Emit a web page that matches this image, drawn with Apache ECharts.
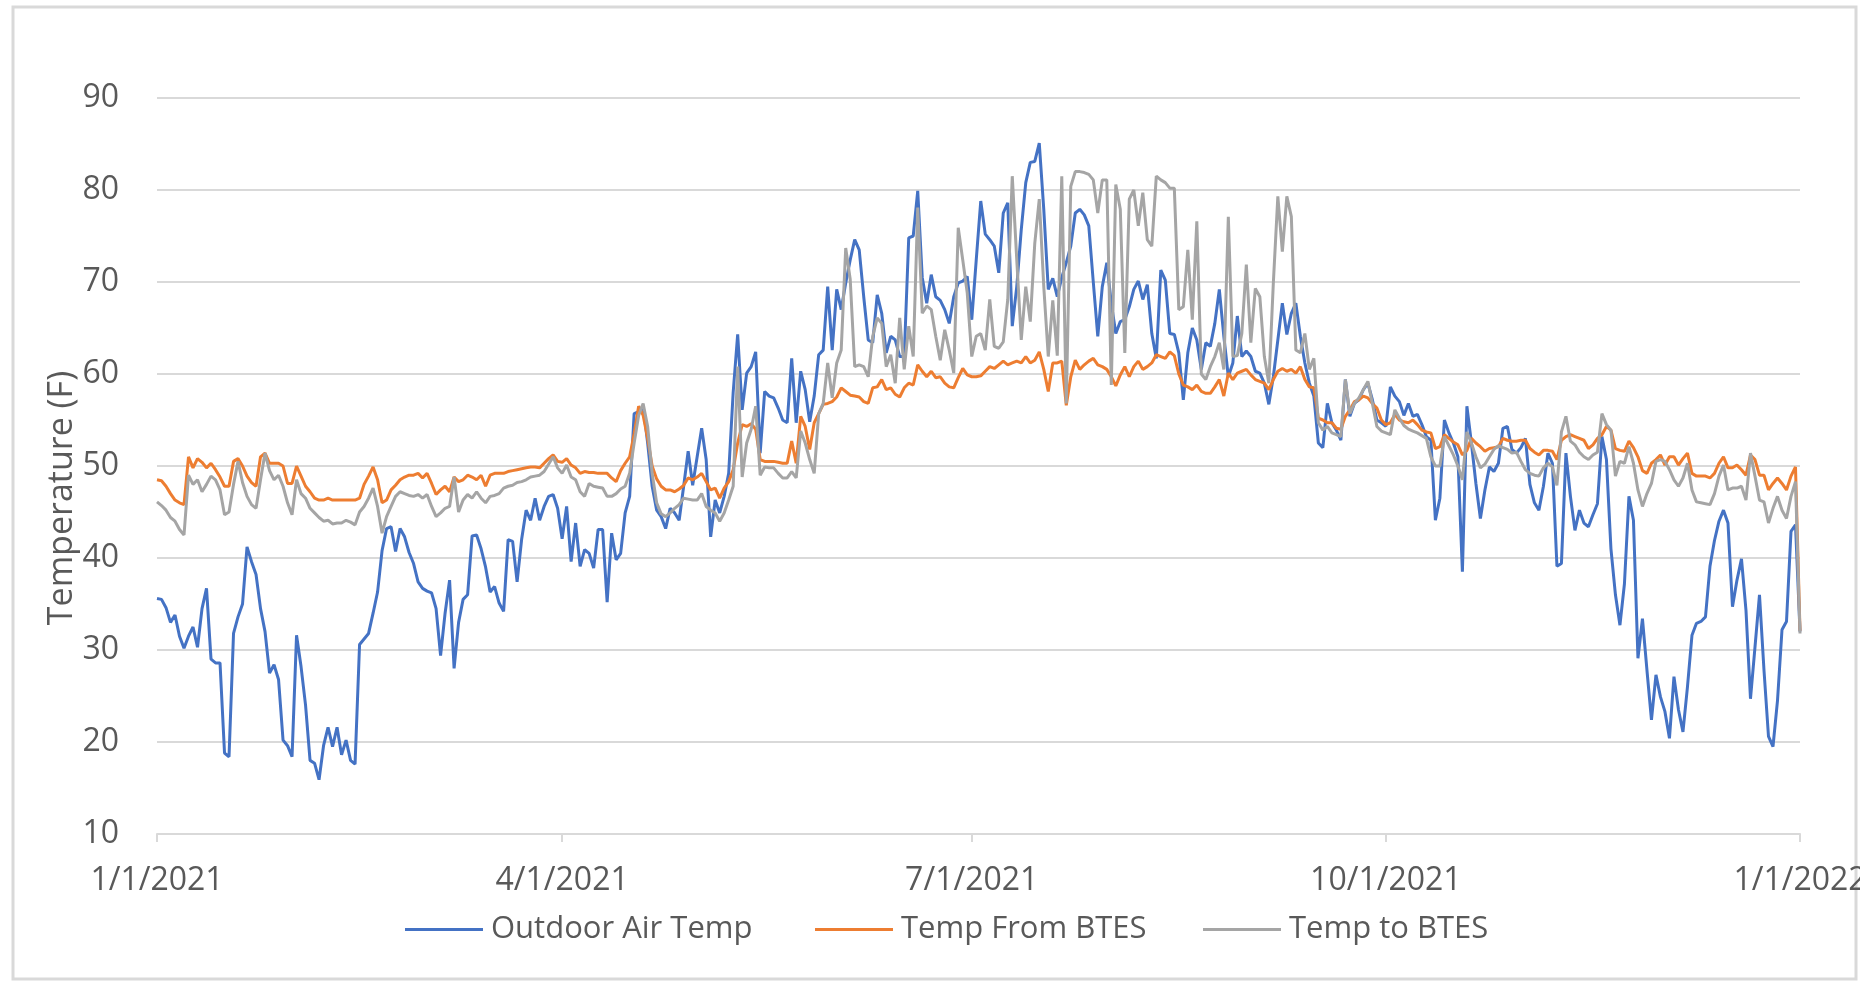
<!DOCTYPE html>
<html>
<head>
<meta charset="utf-8">
<title>Outdoor Air and BTES Temperatures, 2021</title>
<script src="https://cdn.jsdelivr.net/npm/echarts@6/dist/echarts.min.js"></script>
<style>
  html, body { margin: 0; padding: 0; background: #ffffff; }
  #chart { width: 1860px; height: 982px; }
</style>
</head>
<body>
<div id="chart"></div>
<script>
// Daily temperatures (°F), 1/1/2021 through 1/1/2022
const outdoorAirTemp = [
  35.6, 35.5, 34.6, 33.0, 33.8, 31.5, 30.2, 31.5, 32.5, 30.3,
  34.5, 36.7, 29.0, 28.6, 28.6, 18.8, 18.4, 31.8, 33.6, 35.0,
  41.2, 39.6, 38.2, 34.5, 32.0, 27.5, 28.4, 26.8, 20.2, 19.6,
  18.4, 31.6, 28.2, 24.0, 18.0, 17.7, 15.9, 19.6, 21.6, 19.5,
  21.6, 18.6, 20.2, 18.0, 17.6, 30.6, 31.2, 31.8, 34.0, 36.3,
  40.8, 43.2, 43.4, 40.7, 43.2, 42.3, 40.6, 39.4, 37.4, 36.7,
  36.4, 36.2, 34.5, 29.4, 34.0, 37.6, 28.0, 33.0, 35.5, 36.0,
  42.4, 42.5, 41.0, 39.0, 36.3, 36.9, 35.1, 34.2, 42.0, 41.8,
  37.4, 42.0, 45.2, 44.1, 46.5, 44.1, 45.6, 46.7, 46.9, 45.4,
  42.1, 45.6, 39.6, 43.8, 39.1, 40.9, 40.5, 38.9, 43.1, 43.1,
  35.2, 42.7, 39.8, 40.5, 44.9, 46.7, 55.7, 55.9, 56.5, 52.5,
  47.8, 45.2, 44.5, 43.2, 45.4, 44.9, 44.1, 47.8, 51.6, 47.9,
  51.0, 54.1, 50.7, 42.3, 46.3, 44.9, 46.7, 49.2, 58.0, 64.3,
  56.1, 60.1, 60.8, 62.4, 51.4, 58.1, 57.6, 57.4, 56.3, 55.0,
  54.7, 61.7, 54.7, 60.3, 58.3, 54.8, 57.6, 62.1, 62.6, 69.5,
  62.6, 69.2, 67.0, 69.9, 72.4, 74.6, 73.5, 68.4, 63.7, 63.4,
  68.6, 66.6, 62.3, 64.1, 63.7, 61.9, 61.9, 74.8, 75.0, 79.9,
  70.5, 67.7, 70.8, 68.4, 68.0, 67.0, 65.5, 68.4, 69.9, 70.1,
  70.6, 65.9, 72.4, 78.8, 75.2, 74.6, 73.9, 71.0, 77.5, 78.6,
  65.2, 69.5, 75.7, 80.8, 83.0, 83.1, 85.1, 77.9, 69.2, 70.4,
  68.4, 70.5, 72.1, 73.9, 77.5, 77.9, 77.3, 76.1, 70.0, 64.1,
  69.5, 72.1, 67.7, 64.4, 65.7, 65.9, 67.3, 69.2, 70.1, 68.1,
  69.7, 64.4, 61.7, 71.3, 70.2, 64.4, 64.3, 62.3, 57.2, 62.3,
  65.0, 63.7, 60.5, 63.4, 63.0, 65.5, 69.2, 64.1, 59.7, 61.2,
  66.3, 61.9, 62.5, 61.9, 60.3, 60.1, 59.0, 56.7, 59.7, 63.7,
  67.7, 64.3, 66.6, 67.7, 64.1, 61.2, 59.0, 57.6, 52.5, 52.0,
  56.8, 54.7, 53.9, 52.8, 59.4, 55.4, 56.8, 57.2, 58.3, 59.0,
  57.2, 55.0, 54.7, 54.3, 58.6, 57.6, 57.0, 55.5, 56.8, 55.4,
  55.6, 54.5, 53.2, 52.8, 44.1, 46.5, 55.0, 53.6, 52.5, 51.0,
  38.5, 56.5, 52.5, 48.1, 44.3, 47.4, 49.9, 49.4, 50.3, 54.1,
  54.3, 51.8, 51.4, 52.0, 53.0, 48.0, 46.0, 45.2, 47.8, 51.4,
  50.3, 39.1, 39.4, 51.4, 46.7, 43.0, 45.2, 43.8, 43.4, 44.7,
  45.9, 53.2, 50.7, 41.0, 36.0, 32.7, 37.2, 46.7, 44.1, 29.1,
  33.4, 27.8, 22.4, 27.3, 24.9, 23.3, 20.4, 27.1, 23.5, 21.1,
  26.0, 31.6, 32.9, 33.1, 33.6, 39.1, 41.9, 44.0, 45.2, 43.8,
  34.7, 37.6, 39.9, 34.3, 24.7, 30.3, 36.0, 27.8, 20.6, 19.5,
  24.5, 32.2, 33.1, 42.9, 43.6, 32.0
];

const tempFromBTES = [
  48.5, 48.4, 47.8, 47.0, 46.3, 46.0, 45.8, 51.0, 49.8, 50.8,
  50.4, 49.8, 50.3, 49.6, 48.8, 47.8, 47.8, 50.5, 50.8, 50.0,
  48.9, 48.2, 47.8, 51.0, 51.4, 50.3, 50.3, 50.3, 50.0, 48.1,
  48.1, 50.0, 48.9, 47.8, 47.2, 46.5, 46.3, 46.3, 46.5, 46.3,
  46.3, 46.3, 46.3, 46.3, 46.3, 46.5, 48.0, 48.9, 49.9, 48.5,
  46.0, 46.3, 47.4, 47.9, 48.5, 48.8, 49.0, 49.0, 49.2, 48.7,
  49.2, 48.1, 46.9, 47.4, 47.8, 47.2, 48.8, 48.3, 48.5, 49.0,
  48.8, 48.5, 49.0, 47.8, 49.0, 49.2, 49.2, 49.2, 49.4, 49.5,
  49.6, 49.7, 49.8, 49.9, 49.9, 49.8, 50.3, 50.8, 51.2, 50.5,
  50.4, 50.8, 50.1, 49.8, 49.2, 49.4, 49.3, 49.3, 49.2, 49.2,
  49.2, 48.7, 48.3, 49.5, 50.3, 51.0, 53.5, 56.5, 55.5, 53.0,
  50.0, 48.6, 47.8, 47.4, 47.4, 47.2, 47.5, 47.9, 48.7, 48.5,
  48.8, 49.2, 48.3, 47.4, 47.6, 46.5, 47.6, 48.3, 49.6, 52.5,
  54.5, 54.3, 54.6, 54.0, 50.7, 50.5, 50.5, 50.5, 50.4, 50.3,
  50.3, 52.7, 50.3, 55.4, 54.3, 51.8, 54.7, 55.7, 56.7, 56.8,
  57.0, 57.5, 58.5, 58.1, 57.7, 57.6, 57.5, 57.0, 56.8, 58.5,
  58.6, 59.4, 58.3, 58.5, 57.8, 57.5, 58.5, 59.0, 58.8, 61.0,
  60.3, 59.7, 60.3, 59.6, 59.7, 59.0, 58.6, 58.5, 59.6, 60.6,
  59.9, 59.7, 59.7, 59.8, 60.3, 60.8, 60.6, 61.0, 61.4, 61.0,
  61.2, 61.4, 61.2, 61.9, 61.2, 61.5, 62.4, 60.5, 58.1, 61.2,
  61.2, 61.4, 56.6, 59.7, 61.5, 60.5, 61.0, 61.4, 61.7, 61.0,
  60.8, 60.5, 59.7, 58.7, 59.9, 60.8, 59.7, 60.8, 61.4, 60.5,
  60.8, 61.2, 62.1, 61.9, 61.7, 62.4, 62.0, 60.0, 58.8, 58.6,
  58.3, 58.8, 58.1, 57.9, 57.9, 58.6, 59.4, 57.6, 60.1, 59.4,
  60.1, 60.3, 60.5, 59.9, 59.4, 59.2, 59.0, 58.3, 59.4, 60.3,
  60.6, 60.3, 60.5, 60.1, 60.8, 59.4, 58.6, 58.5, 55.2, 55.0,
  54.7, 54.7, 54.1, 54.0, 55.4, 56.1, 57.0, 57.2, 57.6, 57.4,
  56.8, 56.3, 55.0, 54.5, 54.7, 55.6, 55.0, 54.8, 54.7, 55.0,
  54.5, 53.9, 53.7, 53.6, 51.9, 52.1, 53.4, 53.0, 52.6, 52.3,
  51.2, 51.7, 53.0, 52.5, 52.1, 51.6, 51.9, 52.0, 52.1, 53.0,
  52.8, 52.7, 52.7, 52.8, 52.8, 51.9, 51.5, 51.2, 51.7, 51.7,
  51.6, 50.7, 52.8, 53.2, 53.4, 53.2, 53.0, 52.8, 51.9, 52.3,
  53.0, 53.4, 54.3, 53.9, 51.9, 51.7, 51.6, 52.7, 52.0, 51.0,
  49.5, 49.2, 50.3, 50.7, 51.2, 50.1, 51.0, 51.0, 50.1, 50.8,
  51.4, 49.2, 48.9, 48.9, 48.9, 48.7, 49.2, 50.3, 51.0, 49.8,
  49.8, 50.1, 49.6, 49.0, 51.2, 50.7, 49.0, 49.0, 47.4, 48.1,
  48.7, 48.1, 47.4, 48.9, 49.9, 32.1
];

const tempToBTES = [
  46.1, 45.7, 45.2, 44.4, 44.0, 43.1, 42.5, 49.0, 48.0, 48.5,
  47.2, 48.0, 48.9, 48.5, 47.4, 44.7, 45.0, 48.0, 50.5, 48.2,
  46.7, 45.8, 45.4, 48.5, 51.4, 49.5, 48.5, 49.0, 47.8, 46.0,
  44.7, 48.5, 47.0, 46.5, 45.4, 44.9, 44.4, 44.0, 44.1, 43.7,
  43.8, 43.8, 44.1, 43.9, 43.6, 45.0, 45.6, 46.5, 47.6, 45.6,
  42.7, 44.5, 45.6, 46.7, 47.2, 47.0, 46.8, 46.7, 46.9, 46.5,
  46.9, 45.6, 44.5, 44.9, 45.4, 45.6, 48.8, 45.0, 46.3, 46.9,
  46.5, 47.2, 46.5, 46.0, 46.7, 46.8, 47.0, 47.6, 47.8, 47.9,
  48.2, 48.3, 48.5, 48.8, 48.9, 49.0, 49.4, 50.2, 51.0, 49.8,
  49.2, 50.1, 48.8, 48.5, 47.2, 46.7, 48.1, 47.8, 47.7, 47.6,
  46.7, 46.7, 47.0, 47.5, 47.8, 49.2, 52.5, 55.5, 56.8, 54.3,
  49.2, 46.0, 44.8, 44.5, 44.9, 45.4, 45.8, 46.5, 46.4, 46.3,
  46.3, 47.0, 45.6, 45.2, 44.9, 44.0, 44.9, 46.3, 47.8, 60.8,
  48.8, 52.5, 54.0, 56.5, 49.0, 49.9, 49.8, 49.8, 49.2, 48.7,
  48.7, 49.4, 48.7, 53.8, 52.5, 50.7, 49.2, 55.7, 56.8, 61.2,
  57.4, 61.2, 62.6, 73.7, 70.3, 60.8, 61.0, 60.8, 59.7, 64.1,
  66.1, 65.5, 60.8, 62.1, 59.0, 66.1, 60.5, 65.2, 61.9, 78.1,
  66.6, 67.4, 67.0, 64.1, 61.5, 64.8, 62.6, 60.1, 75.9, 72.4,
  68.8, 61.9, 64.1, 64.4, 62.6, 68.1, 63.0, 62.8, 63.5, 68.1,
  81.5, 72.4, 63.7, 69.5, 65.7, 74.2, 79.0, 69.5, 61.9, 68.0,
  62.0, 81.5, 56.8, 80.4, 82.0, 82.0, 81.9, 81.7, 81.1, 77.5,
  81.1, 81.1, 58.8, 80.6, 77.9, 62.3, 79.0, 80.0, 76.1, 79.7,
  74.6, 73.9, 81.5, 81.1, 80.8, 80.2, 80.2, 67.0, 67.3, 73.5,
  65.9, 76.6, 60.0, 59.4, 60.8, 61.9, 63.4, 60.5, 77.1, 61.9,
  62.0, 64.4, 71.9, 63.4, 69.3, 68.4, 61.9, 59.0, 69.9, 79.3,
  73.3, 79.3, 77.1, 62.6, 62.3, 64.4, 60.5, 61.7, 54.7, 53.9,
  54.3, 53.6, 53.4, 53.2, 59.4, 55.7, 56.8, 57.4, 58.3, 59.2,
  56.8, 54.3, 53.8, 53.6, 53.4, 56.1, 55.2, 54.4, 54.0, 53.8,
  53.6, 53.3, 53.0, 51.0, 50.0, 50.0, 53.2, 52.2, 51.2, 50.0,
  48.5, 53.7, 52.5, 51.0, 49.8, 50.2, 51.0, 51.8, 52.2, 52.0,
  51.8, 51.4, 51.5, 50.5, 49.6, 49.2, 49.0, 48.9, 49.8, 50.3,
  49.9, 47.9, 53.7, 55.4, 52.7, 52.3, 51.5, 51.0, 50.7, 51.2,
  51.5, 55.7, 54.5, 53.9, 48.9, 50.5, 50.3, 52.1, 50.3, 47.4,
  45.6, 47.0, 48.1, 50.5, 50.7, 50.5, 49.6, 48.5, 47.8, 48.7,
  50.3, 47.4, 46.1, 46.0, 45.9, 45.8, 47.0, 48.9, 50.1, 47.4,
  47.6, 47.6, 47.8, 46.3, 51.4, 48.9, 46.3, 46.1, 43.8, 45.4,
  46.7, 45.2, 44.3, 46.7, 48.3, 31.8
];

const seriesNames = ['Outdoor Air Temp', 'Temp From BTES', 'Temp to BTES'];
const tickLabels = ['1/1/2021', '4/1/2021', '7/1/2021', '10/1/2021', '1/1/2022'];
const yAxisTitle = 'Temperature (F)';

// One category per day, labelled M/D/YYYY
const categories = [];
const firstDay = Date.UTC(2021, 0, 1);
for (let i = 0; i < outdoorAirTemp.length; i++) {
  const d = new Date(firstDay + i * 86400000);
  categories.push((d.getUTCMonth() + 1) + '/' + d.getUTCDate() + '/' + d.getUTCFullYear());
}
const isQuarterStart = (index) => tickLabels.indexOf(categories[index]) !== -1;

const textColor = '#595959';
const gridColor = '#d9d9d9';
const fontFamily = '"Open Sans", "Noto Sans", sans-serif';
const colors = ['#4472c4', '#ed7d31', '#a5a5a5'];

const chart = echarts.init(document.getElementById('chart'), null, { renderer: 'canvas' });

const legendLefts = [400, 810, 1198];

chart.setOption({
  animation: false,
  backgroundColor: '#ffffff',
  color: colors,
  textStyle: { fontFamily: fontFamily },
  graphic: [
    {
      type: 'rect',
      shape: { x: 13, y: 7, width: 1843, height: 972 },
      style: { fill: 'none', stroke: gridColor, lineWidth: 3 },
      silent: true
    },
    {
      type: 'text',
      x: 62,
      y: 498,
      rotation: Math.PI / 2,
      style: {
        text: yAxisTitle,
        fill: textColor,
        font: '34px ' + fontFamily,
        align: 'center',
        verticalAlign: 'middle'
      },
      silent: true
    }
  ],
  grid: { left: 157, right: 60, top: 98, bottom: 148, containLabel: false, outerBoundsMode: 'none' },
  legend: seriesNames.map((name, i) => ({
    data: [name],
    left: legendLefts[i],
    top: 909,
    icon: 'rect',
    itemWidth: 78,
    itemHeight: 3,
    itemGap: 8,
    textStyle: { color: textColor, fontSize: 31, fontFamily: fontFamily, padding: [0, 0, 0, 3] },
    selectedMode: false
  })),
  xAxis: {
    type: 'category',
    data: categories,
    boundaryGap: false,
    axisLine: { lineStyle: { color: gridColor, width: 2 } },
    axisTick: {
      show: true,
      length: 8,
      interval: (index) => isQuarterStart(index),
      lineStyle: { color: gridColor, width: 2 }
    },
    axisLabel: {
      interval: (index) => isQuarterStart(index),
      color: textColor,
      fontSize: 32,
      margin: 31,
      showMaxLabel: true,
      hideOverlap: false
    },
    splitLine: { show: false }
  },
  yAxis: {
    type: 'value',
    min: 10,
    max: 90,
    interval: 10,
    axisLine: { show: false },
    axisTick: { show: false },
    axisLabel: { color: textColor, fontSize: 32, margin: 38 },
    splitLine: { lineStyle: { color: gridColor, width: 2 } }
  },
  series: [
    { name: seriesNames[0], type: 'line', data: outdoorAirTemp },
    { name: seriesNames[1], type: 'line', data: tempFromBTES },
    { name: seriesNames[2], type: 'line', data: tempToBTES }
  ].map((s) => Object.assign(s, {
    symbol: 'none',
    showSymbol: false,
    lineStyle: { width: 3 },
    emphasis: { disabled: true }
  }))
});
</script>
</body>
</html>
